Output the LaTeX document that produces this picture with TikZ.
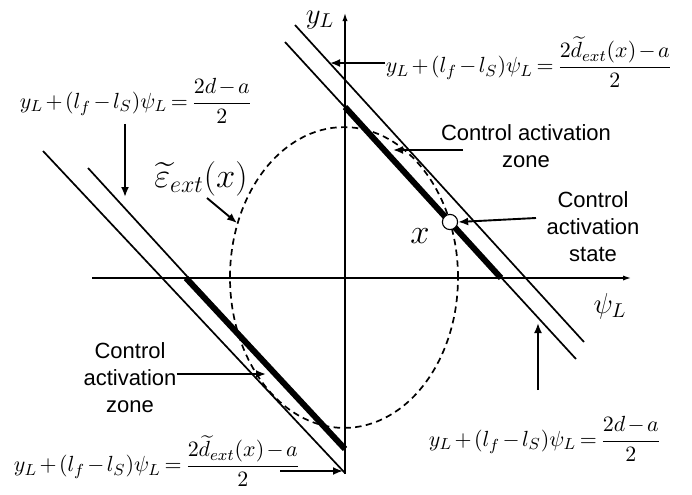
\documentclass[tikz,border=0pt]{standalone}
\usepackage{amsmath}
\usepackage{fontspec}
\setsansfont{Liberation Sans}
\usetikzlibrary{positioning, arrows.meta}

\newcommand{\tightops}{\medmuskip=2mu\relax\thickmuskip=3mu\relax}

\begin{document}
\begin{tikzpicture}[
    x=0.5pt, y=-0.5pt,
    axis/.style={-{Latex[length=4pt, width=2.6pt]}, line width=0.65pt},
    bound/.style={line width=0.85pt},
    zonepart/.style={line width=3pt},
    region/.style={dash pattern=on 3.2pt off 2.2pt, line width=0.85pt},
    arr/.style={-{Latex[length=5pt, width=4pt]}, line width=0.95pt},
    lbl/.style={font=\sffamily\fontsize{11}{13.5}\selectfont,
        align=center, inner sep=0pt},
    eq/.style={inner sep=0pt, font=\fontsize{11}{13}\selectfont},
    bigmath/.style={inner sep=0pt, font=\fontsize{17}{20}\selectfont},
    axlabel/.style={inner sep=0pt, font=\fontsize{14}{16}\selectfont},
    statept/.style={circle, draw=black, fill=white, line width=0.55pt,
        minimum size=7.6pt, inner sep=0pt}
]
\useasboundingbox (0,0) rectangle (692,494);

%% ── Axes ─────────────────────────────────────────────────────────
\coordinate (psiS) at (92,278);
\coordinate (psiE) at (631,278);
\coordinate (yS)   at (345,474);
\coordinate (yE)   at (345,13);
\draw[axis] (psiS) -- (psiE);
\draw[axis] (yS) -- (yE);
\node[axlabel] (ylab)   at (320,20)  {$y_L$};
\node[axlabel] (psilab) at (610,306) {$\psi_L$};

%% ── Estimated region (dashed) ────────────────────────────────────
\coordinate (ctr) at (344,277.5);
\draw[region] (ctr) ellipse [x radius=57pt, y radius=75.2pt];

%% ── Boundary lines, upper right ──────────────────────────────────
\coordinate (urOutA) at (295,25);
\coordinate (urOutB) at (584,342);
\coordinate (urInA)  at (285,42);
\coordinate (urInB)  at (576,359);
\draw[bound] (urOutA) -- (urOutB);
\draw[bound] (urInA) -- (urInB);

%% ── Boundary lines, lower left ───────────────────────────────────
\coordinate (llOutA) at (43,151);
\coordinate (llOutB) at (345,473);
\coordinate (llInA)  at (88,168);
\coordinate (llInB)  at (345,449);
\draw[bound] (llOutA) -- (llOutB);
\draw[bound] (llInA) -- (llInB);

%% ── Control activation zones (thick) ─────────────────────────────
\coordinate (urZA) at (345,107);
\coordinate (urZB) at (501,278);
\coordinate (llZA) at (186,278);
\coordinate (llZB) at (345,449);
\draw[zonepart] (urZA) -- (urZB);
\draw[zonepart] (llZA) -- (llZB);

%% ── Control activation state ─────────────────────────────────────
\node[statept] (xstate) at (450,222) {};
\node[bigmath] (xlab) at (420,236) {$x$};

%% ── Region label ─────────────────────────────────────────────────
\node[bigmath] (eps) at (201,179) {$\widetilde{\varepsilon}_{ext}(x)$};
\coordinate (epsTail) at (207,198);
\coordinate (epsTip)  at (237,223);
\draw[arr] (epsTail) -- (epsTip);

%% ── Line equations ───────────────────────────────────────────────
\node[eq] (eqUR) at (529,62)
    {$\tightops y_L+(l_f-l_S)\psi_L=\dfrac{2\widetilde{d}_{ext}(x)-a}{2}$};
\node[eq] (eqUL) at (136,101)
    {$\tightops y_L+(l_f-l_S)\psi_L=\dfrac{2d-a}{2}$};
\node[eq] (eqLL) at (157,461)
    {$\tightops y_L+(l_f-l_S)\psi_L=\dfrac{2\widetilde{d}_{ext}(x)-a}{2}$};
\node[eq] (eqLR) at (545,439)
    {$\tightops y_L+(l_f-l_S)\psi_L=\dfrac{2d-a}{2}$};

\coordinate (tipUR) at (330,63);
\draw[arr] (eqUR.west |- tipUR) -- (tipUR);
\coordinate (tipUL) at (125,197);
\draw[arr] (eqUL.south -| tipUL) -- (tipUL);
\coordinate (tailLL) at (280,471);
\coordinate (tipLL)  at (343,471);
\draw[arr] (tailLL) -- (tipLL);
\coordinate (tailLR) at (538,390);
\coordinate (tipLR)  at (538,323);
\draw[arr] (tailLR) -- (tipLR);

%% ── Text labels ──────────────────────────────────────────────────
\node[lbl] (zoneUR) at (526,146) {Control activation\\zone};
\coordinate (zoneURtail) at (463,150);
\coordinate (zoneURtip)  at (393,150);
\draw[arr] (zoneURtail) -- (zoneURtip);

\node[lbl] (stateR) at (593,227) {Control\\activation\\state};
\coordinate (stateTail) at (536,218);
\draw[arr] (stateTail) -- (xstate.east);

\node[lbl] (zoneLL) at (130,378) {Control\\activation\\zone};
\coordinate (zoneLLtip) at (266,374);
\draw[arr] (zoneLL.east |- zoneLLtip) -- (zoneLLtip);

\end{tikzpicture}
\end{document}
